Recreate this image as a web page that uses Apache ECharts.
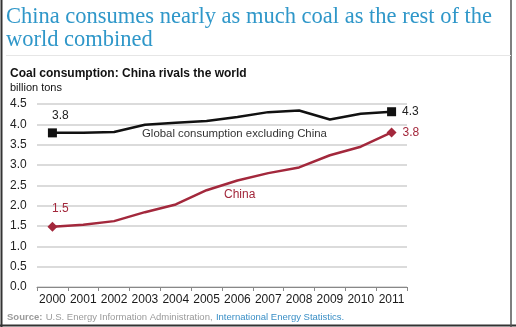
<!DOCTYPE html>
<html>
<head>
<meta charset="utf-8">
<script src="https://cdn.jsdelivr.net/npm/echarts@6/dist/echarts.min.js"></script>
<style>
html,body{margin:0;padding:0;background:#fff;}
#chart{width:516px;height:327px;}
</style>
</head>
<body>
<div id="chart"></div>
<script>
// Coal consumption, billion tons
const years = ['2000','2001','2002','2003','2004','2005','2006','2007','2008','2009','2010','2011'];
const worldExChina = [3.79, 3.79, 3.81, 3.99, 4.04, 4.08, 4.18, 4.30, 4.34, 4.12, 4.26, 4.31];
const china = [1.48, 1.53, 1.62, 1.84, 2.03, 2.38, 2.62, 2.80, 2.94, 3.24, 3.45, 3.80];
const yTicks = [0, 0.5, 1, 1.5, 2, 2.5, 3, 3.5, 4, 4.5];

const BLACK = '#111111';
const RED = '#a3283c';
const last = years.length - 1;

function endpoints(values, color, symbol, size) {
  return values.map((v, i) => {
    if (i === 0) {
      return { value: v, symbol: symbol, symbolSize: size,
        label: { show: true, position: 'top', distance: 7, offset: [8, 0],
                 formatter: v.toFixed(1), color: color === BLACK ? '#222' : RED, fontSize: 12,
                 fontFamily: 'Liberation Sans, Arial, sans-serif' } };
    }
    if (i === last) {
      return { value: v, symbol: symbol, symbolSize: size,
        label: { show: true, position: 'right', distance: 6,
                 formatter: v.toFixed(1), color: color === BLACK ? '#222' : RED, fontSize: 12,
                 fontFamily: 'Liberation Sans, Arial, sans-serif' } };
    }
    return { value: v, symbol: 'none' };
  });
}

const chart = echarts.init(document.getElementById('chart'), null, { renderer: 'canvas' });
chart.setOption({
  animation: false,
  backgroundColor: '#ffffff',
  grid: { left: 37, right: 109, top: 104, bottom: 40 },
  xAxis: {
    type: 'category',
    data: years,
    boundaryGap: true,
    axisLine: { lineStyle: { color: '#888', width: 1 } },
    axisTick: { show: true, length: 4, interval: 0, lineStyle: { color: '#888' } },
    axisLabel: { color: '#1a1a1a', fontSize: 12, margin: 7, interval: 0,
                 fontFamily: 'Liberation Sans, Arial, sans-serif' }
  },
  yAxis: {
    type: 'value',
    min: 0, max: 4.5, interval: 0.5,
    axisLine: { show: false },
    axisTick: { show: false },
    splitLine: { lineStyle: { color: '#cfcfcf', width: 1.5 } },
    axisLabel: {
      align: 'left', margin: 27, color: '#222', fontSize: 12,
      fontFamily: 'Liberation Sans, Arial, sans-serif',
      formatter: v => (yTicks.includes(v) ? v.toFixed(1) : '')
    }
  },
  series: [
    {
      name: 'Global consumption excluding China',
      type: 'line',
      data: endpoints(worldExChina, BLACK, 'rect', 9),
      lineStyle: { color: BLACK, width: 2.5 },
      itemStyle: { color: BLACK },
      showSymbol: true,
      z: 3
    },
    {
      name: 'China',
      type: 'line',
      data: endpoints(china, RED, 'diamond', 10),
      lineStyle: { color: RED, width: 2.5 },
      itemStyle: { color: RED },
      showSymbol: true,
      z: 3
    }
  ],
  graphic: [
    // frame
    { type: 'line', shape: { x1: 1.5, y1: 0, x2: 1.5, y2: 327 }, style: { stroke: '#333', lineWidth: 2 } },
    { type: 'line', shape: { x1: 0, y1: 325.5, x2: 516, y2: 325.5 }, style: { stroke: '#333', lineWidth: 2 } },
    { type: 'line', shape: { x1: 511, y1: 0, x2: 511, y2: 327 }, style: { stroke: '#555', lineWidth: 1.5 } },
    { type: 'line', shape: { x1: 6, y1: 55.5, x2: 511, y2: 55.5 }, style: { stroke: '#e6e6e6', lineWidth: 1 } },
    {
      type: 'text', left: 6, top: 6,
      style: {
        text: 'China consumes nearly as much coal as the rest of the\nworld combined',
        fill: '#2f97c9', font: '22.5px "Liberation Serif", "Times New Roman", serif', lineHeight: 23
      }
    },
    {
      type: 'text', left: 10, top: 68,
      style: { text: 'Coal consumption: China rivals the world', fill: '#111',
               font: 'bold 12px "Liberation Sans", Arial, sans-serif' }
    },
    {
      type: 'text', left: 10, top: 82,
      style: { text: 'billion tons', fill: '#111', font: '11px "Liberation Sans", Arial, sans-serif' }
    },
    {
      type: 'text', left: 142, top: 128,
      style: { text: 'Global consumption excluding China', fill: '#333',
               font: '11.4px "Liberation Sans", Arial, sans-serif' }
    },
    {
      type: 'text', left: 224, top: 189,
      style: { text: 'China', fill: RED, font: '12px "Liberation Sans", Arial, sans-serif' }
    },
    {
      type: 'text', left: 7, top: 311,
      style: {
        rich: {
          s: { fill: '#9a9a9a', font: 'bold 9.5px "Liberation Sans", Arial, sans-serif' },
          g: { fill: '#9a9a9a', font: '9.5px "Liberation Sans", Arial, sans-serif' },
          b: { fill: '#3a8fc6', font: '9.5px "Liberation Sans", Arial, sans-serif' }
        },
        text: '{s|Source:} {g|U.S. Energy Information Administration,} {b|International Energy Statistics.}'
      }
    }
  ]
});
</script>
</body>
</html>
